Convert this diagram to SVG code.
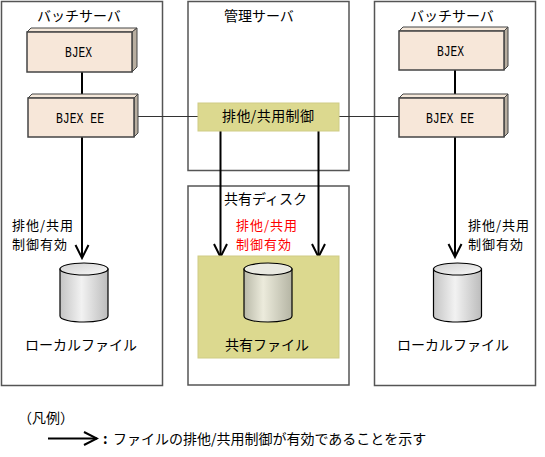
<svg xmlns="http://www.w3.org/2000/svg" width="545" height="457" viewBox="0 0 545 457">
<style>
.box{fill:#fff;stroke:#555;stroke-width:1.5}
.t{font-family:"Noto Sans CJK JP","Liberation Sans",sans-serif;font-size:14px;fill:#000}
.two{font-size:13px;letter-spacing:1px}
.red{fill:#f00}
.m{font-family:"Liberation Mono","DejaVu Sans Mono",monospace;font-size:14px;fill:#000}
.r{fill:#f7e7d9;stroke:#444;stroke-width:1.5}
.top{fill:#f5e8da;stroke:#444;stroke-width:1}
.side{fill:#b8aea0;stroke:#444;stroke-width:1}
.ctl{fill:#dcd98f;stroke:#cfcc85;stroke-width:1}
.lnk{fill:none;stroke:#333;stroke-width:1}
.thick{fill:none;stroke:#000;stroke-width:2}
.cyl{stroke:#000;stroke-width:1.2}
.cap{stroke:#000;stroke-width:1.2}
</style>
<defs>
<linearGradient id="cg" x1="0" x2="1" y1="0" y2="0"><stop offset="0" stop-color="#b9b9a8"/><stop offset=".4" stop-color="#ecebdc"/><stop offset="1" stop-color="#b5b5a4"/></linearGradient>
<linearGradient id="cl" x1="0" x2="1" y1="0" y2="0"><stop offset="0" stop-color="#c4c4c4"/><stop offset=".45" stop-color="#f2f2f2"/><stop offset="1" stop-color="#bcbcbc"/></linearGradient>
<linearGradient id="ct" x1="0" x2="1" y1="0" y2="1"><stop offset="0" stop-color="#cfcfcf"/><stop offset="1" stop-color="#fafafa"/></linearGradient>
<marker id="a" markerWidth="16" markerHeight="16" refX="14" refY="8" orient="auto" markerUnits="userSpaceOnUse"><path d="M1 1.500L14 8L1 14.500" fill="none" stroke="#000" stroke-width="2"/></marker>
<g id="cyl-olive"><path class="cyl" fill="url(#cg)" d="M0 6V53C0 61 48 61 48 53V6Z"/><ellipse class="cap" fill="#e9e9e1" cx="24" cy="6" rx="24" ry="6"/></g>
<g id="cyl-gray"><path class="cyl" fill="url(#cl)" d="M0 6V53C0 61 48 61 48 53V6Z"/><ellipse class="cap" fill="url(#ct)" cx="24" cy="6" rx="24" ry="6"/></g>
</defs>
<g id="batch-left"><rect class="box" x="1.500" y="1.500" width="161" height="384"/><text class="t" x="37" y="21">バッチサーバ</text></g>
<g id="admin"><rect class="box" x="188" y="1.500" width="161" height="169"/><text class="t" x="224" y="21">管理サーバ</text></g>
<g id="disk"><rect class="box" x="188" y="186" width="161" height="199"/><text class="t" x="224" y="204">共有ディスク</text></g>
<g id="batch-right"><rect class="box" x="374.500" y="1.500" width="161" height="384"/><text class="t" x="410" y="21">バッチサーバ</text></g>
<g id="connectors">
<path class="thick" d="M82 72V98M455 70V98"/>
<path class="lnk" d="M138 116.500H198M339 116.500H399"/>
<path class="thick" d="M82 137V258" marker-end="url(#a)"/>
<path class="thick" d="M220.500 131V257" marker-end="url(#a)"/>
<path class="thick" d="M318.500 131V257" marker-end="url(#a)"/>
<path class="thick" d="M455 137V257" marker-end="url(#a)"/>
</g>
<g id="bjex-left"><path class="top" d="M27 32L31 28H137L132 32Z"/><path class="side" d="M132 32L137 28V67L132 72Z"/><rect class="r" x="27" y="32" width="105" height="40"/><text class="m" x="65" y="57" textLength="27" lengthAdjust="spacingAndGlyphs">BJEX</text></g>
<g id="bjexee-left"><path class="top" d="M28 98L32 94H138L134 98Z"/><path class="side" d="M134 98L138 94V133L134 137Z"/><rect class="r" x="28" y="98" width="106" height="39"/><text class="m" x="56" y="123" textLength="48" lengthAdjust="spacingAndGlyphs">BJEX EE</text></g>
<g id="bjex-right"><path class="top" d="M399 31L403 27H508L504 31Z"/><path class="side" d="M504 31L508 27V66L504 70Z"/><rect class="r" x="399" y="31" width="105" height="39"/><text class="m" x="437" y="56" textLength="27" lengthAdjust="spacingAndGlyphs">BJEX</text></g>
<g id="bjexee-right"><path class="top" d="M399 98L403 94H508L504 98Z"/><path class="side" d="M504 98L508 94V133L504 137Z"/><rect class="r" x="399" y="98" width="105" height="39"/><text class="m" x="426" y="123" textLength="48" lengthAdjust="spacingAndGlyphs">BJEX EE</text></g>
<g id="control"><rect class="ctl" x="198" y="103" width="141" height="28"/><text class="t" x="222" y="121" textLength="92">排他/共用制御</text></g>
<g id="shared"><rect class="ctl" x="198" y="256" width="141" height="102"/><use href="#cyl-olive" x="244" y="263"/><text class="t" x="225" y="350">共有ファイル</text></g>
<g id="local-left"><use href="#cyl-gray" x="60" y="263"/><text class="t" x="25" y="350" textLength="112">ローカルファイル</text></g>
<g id="local-right"><use href="#cyl-gray" x="433.500" y="263"/><text class="t" x="397" y="350" textLength="112">ローカルファイル</text></g>
<g id="labels">
<text class="t two" x="12" y="230">排他/共用</text><text class="t two" x="12" y="249">制御有効</text>
<text class="t two red" x="236" y="230">排他/共用</text><text class="t two red" x="236" y="249">制御有効</text>
<text class="t two" x="468" y="230">排他/共用</text><text class="t two" x="468" y="249">制御有効</text>
</g>
<g id="legend"><text class="t" x="18" y="423">（凡例）</text><path class="thick" d="M48 438.500H97" marker-end="url(#a)"/><text class="t" y="444"><tspan x="103" font-weight="700">:</tspan><tspan x="113">ファイルの排他/共用制御が有効であることを示す</tspan></text></g>
</svg>
